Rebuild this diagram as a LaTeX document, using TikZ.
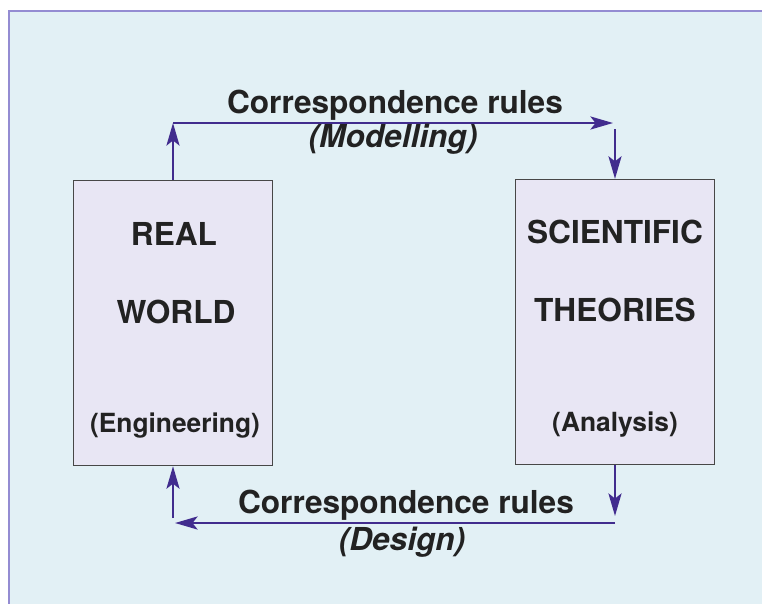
\documentclass[tikz,border=0pt]{standalone}
\usepackage{fontspec}
\setmainfont{TeX Gyre Heros}
\usetikzlibrary{arrows.meta,positioning}
\definecolor{panelbg}{HTML}{E2F0F5}
\definecolor{panelbd}{HTML}{948CD2}
\definecolor{boxbg}{HTML}{E8E6F4}
\definecolor{boxbd}{HTML}{474747}
\definecolor{rulec}{HTML}{412C8E}
\definecolor{ink}{HTML}{222222}
\tikzset{
  world/.style={draw=boxbd,fill=boxbg,line width=0.8pt,
                minimum width=3.97cm,minimum height=5.7cm,inner sep=0pt},
  title/.style={font=\fontsize{18}{21}\selectfont\bfseries,ink,anchor=base},
  sub/.style={font=\fontsize{15}{18}\selectfont\bfseries,ink,anchor=base},
  ruletext/.style={font=\fontsize{18}{21}\selectfont\bfseries,ink,anchor=base},
  rulenote/.style={font=\fontsize{18}{21}\selectfont\bfseries\itshape,ink,anchor=base},
  rulearrow/.style={-{Stealth[length=4.5mm,width=2.6mm,inset=1mm]},line width=1.5pt,rulec},
}
\begin{document}
\begin{tikzpicture}[x=0.02cm,y=-0.02cm]
  \useasboundingbox (0,0) rectangle (762,603);
  % Panel
  \draw[panelbd,fill=panelbg,line width=1.6pt](9,11)rectangle(790,640);
  % Boxes
  \node[world](rw)at(173,323){};
  \node[title](rwa)at(174,245){REAL};
  \node[title](rwb)at(176,323){WORLD};
  \node[sub](rwc)at(175,432){(Engineering)};
  \node[world](st)at(615,322){};
  \node[title](sta)at(615,243){SCIENTIFIC};
  \node[title](stb)at(615,321){THEORIES};
  \node[sub](stc)at(615,431){(Analysis)};
  % Modelling loop
  \coordinate(tl)at(173,123);
  \coordinate(tr)at(613,123);
  \coordinate(td)at(615,129);
  \draw[rulearrow](rw.north)--(tl);
  \draw[rulearrow](tl)--(tr);
  \draw[rulearrow](td)--(st.north);
  \node[ruletext](mt)at(395,113){Correspondence rules};
  \node[rulenote](mn)at(393,147){(Modelling)};
  % Design loop
  \coordinate(bd)at(615,516);
  \coordinate(br)at(615,523);
  \coordinate(bl)at(175,523);
  \coordinate(bu)at(173,518);
  \draw[rulearrow](st.south)--(bd);
  \draw[rulearrow](br)--(bl);
  \draw[rulearrow](bu)--(rw.south);
  \node[ruletext](dt)at(406,513){Correspondence rules};
  \node[rulenote](dn)at(402,550){(Design)};
\end{tikzpicture}
\end{document}
